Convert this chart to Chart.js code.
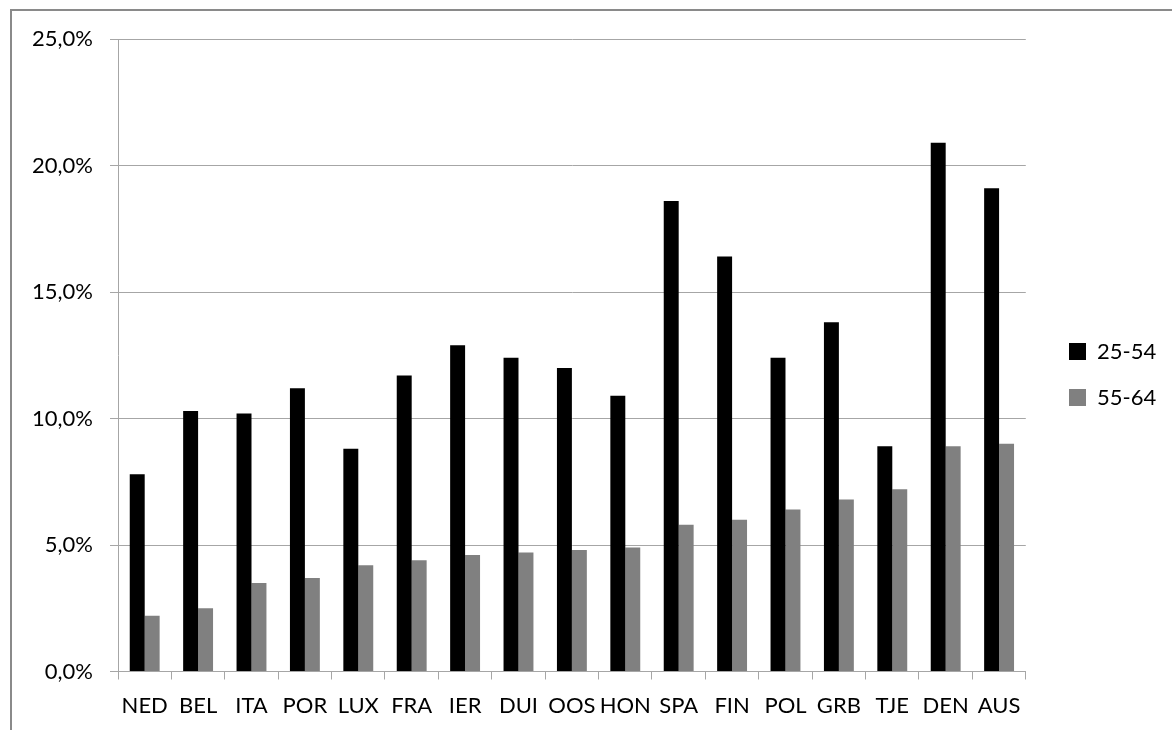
<!DOCTYPE html>
<html>
<head>
<meta charset="utf-8">
<script src="https://cdn.jsdelivr.net/npm/chart.js@4.4.1/dist/chart.umd.min.js"></script>
<style>
  html, body { margin: 0; padding: 0; background: #ffffff; overflow: hidden; }
  #frame { position: absolute; left: 10px; top: 9px; width: 1300px; height: 900px; border: 2px solid #8a8a8a; box-sizing: border-box; }
  #wrap { position: absolute; left: 0; top: 0; width: 1172px; height: 730px; }
</style>
</head>
<body>
<div id="frame"></div>
<div id="wrap"><canvas id="c" width="1172" height="730"></canvas></div>
<script>
const categories = ["NED","BEL","ITA","POR","LUX","FRA","IER","DUI","OOS","HON","SPA","FIN","POL","GRB","TJE","DEN","AUS"];
const age25_54 = [7.8, 10.3, 10.2, 11.2, 8.8, 11.7, 12.9, 12.4, 12.0, 10.9, 18.6, 16.4, 12.4, 13.8, 8.9, 20.9, 19.1];
const age55_64 = [2.2, 2.5, 3.5, 3.7, 4.2, 4.4, 4.6, 4.7, 4.8, 4.9, 5.8, 6.0, 6.4, 6.8, 7.2, 8.9, 9.0];
const seriesNames = ["25-54", "55-64"];
const yTicks = [0, 5, 10, 15, 20, 25];

const FONT = "Lato, 'Open Sans', sans-serif";

const legendShift = {
  id: 'legendShift',
  afterLayout(chart) {
    const l = chart.legend;
    if (!l) return;
    const dx = 1069 - (l.left + l.options.labels.padding);
    l.left += dx; l.right += dx;
    l.top -= 10; l.bottom -= 10;
  }
};

new Chart(document.getElementById('c'), {
  type: 'bar',
  data: {
    labels: categories,
    datasets: [
      { label: seriesNames[0], data: age25_54, backgroundColor: '#000000', borderWidth: 0,
        categoryPercentage: 0.56, barPercentage: 1.0 },
      { label: seriesNames[1], data: age55_64, backgroundColor: '#808080', borderWidth: 0,
        categoryPercentage: 0.56, barPercentage: 1.0 }
    ]
  },
  plugins: [legendShift],
  options: {
    responsive: false,
    animation: false,
    layout: { padding: { left: 0, right: 25, top: 39, bottom: 0 } },
    plugins: {
      tooltip: { enabled: false },
      legend: {
        position: 'right',
        labels: {
          boxWidth: 17, boxHeight: 17, padding: 24,
          color: '#000000',
          font: { family: FONT, size: 22 }
        }
      }
    },
    scales: {
      x: {
        afterFit: (s) => { s.height = 58.5; },
        grid: { display: true, drawOnChartArea: false, drawTicks: true, tickLength: 8, color: '#a6a6a6', offset: true },
        border: { display: true, color: '#a6a6a6', width: 1 },
        ticks: { color: '#000000', font: { family: FONT, size: 22 }, padding: 13, maxRotation: 0, autoSkip: false }
      },
      y: {
        min: 0, max: 25,
        afterBuildTicks: (s) => { s.ticks = yTicks.map(v => ({ value: v })); },
        afterFit: (s) => { s.width = 118; },
        grid: { color: '#a6a6a6', tickLength: 8, drawTicks: true },
        border: { display: true, color: '#a6a6a6', width: 1 },
        ticks: {
          color: '#000000', font: { family: FONT, size: 22 }, padding: 17,
          callback: (v) => v.toFixed(1).replace('.', ',') + '%'
        }
      }
    }
  }
});
</script>
</body>
</html>
